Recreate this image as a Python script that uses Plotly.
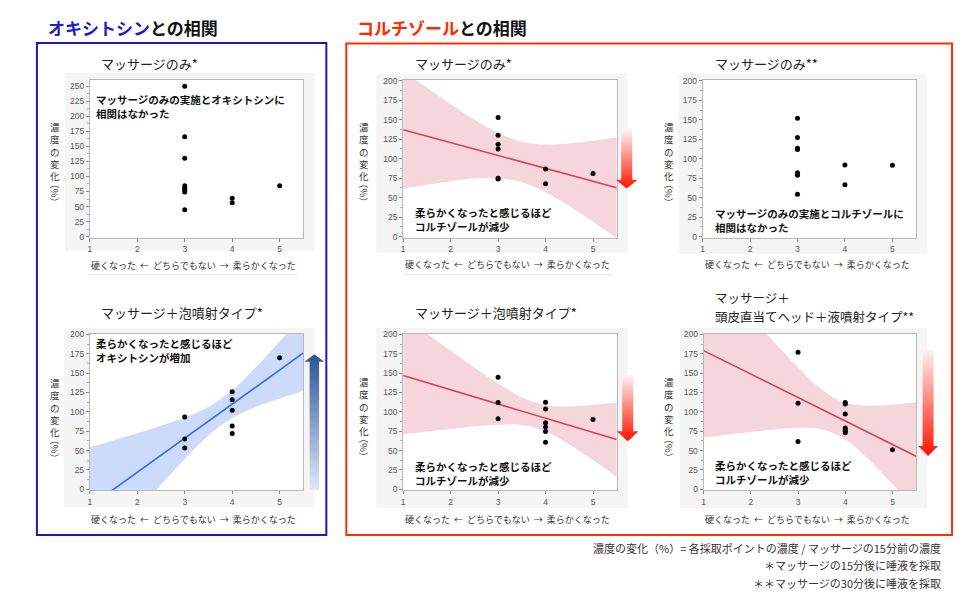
import base64
import plotly.graph_objects as go

W, H = 976, 606
FONT = "Noto Sans CJK JP"
NUMFONT = "Liberation Sans"

# ---------------- data ----------------
tick_vals = [1, 2, 3, 4, 5]
tick_text = ["1", "2", "3", "4", "5"]
x_label = "硬くなった&nbsp;&nbsp;←&nbsp;&nbsp;どちらでもない&nbsp;&nbsp;→&nbsp;&nbsp;柔らかくなった"
y_label_chars = ["濃", "度", "の", "変", "化"]
y_label_unit = "（%）"

# oxytocin, massage only (*)
oxy_massage_x = [3, 3, 3, 3, 3, 3, 3, 3, 4, 4, 5]
oxy_massage_y = [249.5, 166, 130, 84.5, 80.5, 77, 74, 44.7, 63.7, 56.1, 84.4]

# oxytocin, massage + foam jet (*)
oxy_foam_x = [3, 3, 3, 4, 4, 4, 4, 4, 5]
oxy_foam_y = [93.5, 65, 53.2, 125.8, 115.7, 101.9, 81.8, 72.1, 169.8]

# cortisol, massage only (*)
cort_m15_x = [3, 3, 3, 3, 3, 3, 4, 4, 5]
cort_m15_y = [153, 130, 118.7, 112.4, 75, 74, 86.8, 67.9, 80.9]

# cortisol, massage only (**)
cort_m30_x = [3, 3, 3, 3, 3, 3, 3, 4, 4, 5]
cort_m30_y = [151.9, 127.2, 113.4, 111.7, 82, 78.7, 54.4, 92, 66.5, 91.6]

# cortisol, massage + foam jet (*)
cort_foam_x = [3, 3, 3, 4, 4, 4, 4, 4, 4, 5]
cort_foam_y = [144.7, 112, 91, 112.4, 103.6, 86, 80.5, 74.6, 60.8, 90.1]

# cortisol, massage + scalp head + liquid jet (**)
cort_head_x = [3, 3, 3, 4, 4, 4, 4, 4, 4, 4, 5]
cort_head_y = [176.9, 111.1, 61.6, 112, 110, 97.3, 79, 77, 75, 73, 51.2]

# fitted lines, read at the two ends of the x range
fit_x = [1, 5.5]
oxy_foam_fit = [-22, 176]
cort_m15_fit = [137.1, 62.9]
cort_foam_fit = [146.8, 64.2]
cort_head_fit = [179, 42.8]

# confidence bands, read at these x values
band_x = [1, 1.5, 2, 2.5, 3, 3.5, 4, 4.5, 5, 5.5]
oxy_foam_lo = [-98.3, -63.3, -28.5, 5.9, 39.2, 69.6, 92.1, 106.4, 117.2, 126.9]
oxy_foam_hi = [54.3, 63.3, 72.5, 82.1, 92.8, 106.4, 127.9, 157.6, 190.8, 225.1]
cort_m15_lo = [61.6, 66.7, 71.2, 74.5, 75, 69.9, 57.1, 39.4, 19.3, -1.9]
cort_m15_hi = [212.6, 190.9, 170, 150.2, 133.2, 121.9, 118.1, 119.4, 122.9, 127.6]
cort_foam_lo = [70.8, 74.5, 78, 81.3, 83.5, 83.1, 74.9, 58, 37.8, 16.3]
cort_foam_hi = [222.8, 200.7, 178.8, 157.3, 136.7, 118.7, 108.5, 107, 109, 112.1]
cort_head_lo = [66.5, 70.5, 74.1, 77.3, 79.4, 77.6, 64.6, 38.2, 6.5, -26.7]
cort_head_hi = [291.5, 257.3, 223.3, 189.9, 157.6, 129, 111.8, 108, 109.3, 112.3]

section_titles = ["オキシトシン", "コルチゾール"]
section_suffix = "との相関"
panel_titles = [
    ["マッサージのみ*"],
    ["マッサージ＋泡噴射タイプ*"],
    ["マッサージのみ*"],
    ["マッサージのみ**"],
    ["マッサージ＋泡噴射タイプ*"],
    ["マッサージ＋", "頭皮直当てヘッド＋液噴射タイプ**"],
]
notes = [
    ["マッサージのみの実施とオキシトシンに", "相関はなかった"],
    ["柔らかくなったと感じるほど", "オキシトシンが増加"],
    ["柔らかくなったと感じるほど", "コルチゾールが減少"],
    ["マッサージのみの実施とコルチゾールに", "相関はなかった"],
    ["柔らかくなったと感じるほど", "コルチゾールが減少"],
    ["柔らかくなったと感じるほど", "コルチゾールが減少"],
]
footnotes = [
    "濃度の変化（%）= 各採取ポイントの濃度 / マッサージの15分前の濃度",
    "＊マッサージの15分後に唾液を採取",
    "＊＊マッサージの30分後に唾液を採取",
]

# ---------------- layout helpers ----------------
def X(px):
    return px / W


def Y(py):
    return 1 - py / H


BLUE_BAND = "rgba(205,219,250,1)"
BLUE_LINE = "#2f6bef"
RED_BAND = "rgba(245,214,220,1)"
RED_LINE = "#d8404c"

panels = [
    dict(x=oxy_massage_x, y=oxy_massage_y, plot=(88, 302, 77, 237), bg=(63, 313, 70, 250),
         yr=[-2, 260], fit=None, lo=None, hi=None, band=None, line=None,
         title=(97, [60]), tsize=13, note=(92, 103.5), xl=(192, 265), yl=(53, 121.7)),
    dict(x=oxy_foam_x, y=oxy_foam_y, plot=(88, 302, 334, 493), bg=(62, 313, 328, 510),
         yr=[-1.5, 201], fit=oxy_foam_fit, lo=oxy_foam_lo, hi=oxy_foam_hi,
         band=BLUE_BAND, line=BLUE_LINE,
         title=(97, [313]), tsize=13, note=(92, 351), xl=(192, 522), yl=(53, 381)),
    dict(x=cort_m15_x, y=cort_m15_y, plot=(402, 616, 77, 237), bg=(375, 627, 71, 252),
         yr=[-1.5, 201], fit=cort_m15_fit, lo=cort_m15_lo, hi=cort_m15_hi,
         band=RED_BAND, line=RED_LINE,
         title=(412, [60]), tsize=13, note=(412, 218.5), xl=(507, 264), yl=(363, 121.7)),
    dict(x=cort_m30_x, y=cort_m30_y, plot=(702, 916, 77, 237), bg=(678, 927, 71, 253),
         yr=[-1.5, 201], fit=None, lo=None, hi=None, band=None, line=None,
         title=(712, [60]), tsize=13, note=(712, 219.5), xl=(807, 264), yl=(668, 121.7)),
    dict(x=cort_foam_x, y=cort_foam_y, plot=(402, 616, 334, 493), bg=(375, 627, 328, 511),
         yr=[-1.5, 201], fit=cort_foam_fit, lo=cort_foam_lo, hi=cort_foam_hi,
         band=RED_BAND, line=RED_LINE,
         title=(412, [313]), tsize=13, note=(412, 475.5), xl=(507, 522), yl=(363, 380)),
    dict(x=cort_head_x, y=cort_head_y, plot=(703, 916, 334, 493), bg=(679, 927, 328, 511),
         yr=[-1.5, 201], fit=cort_head_fit, lo=cort_head_lo, hi=cort_head_hi,
         band=RED_BAND, line=RED_LINE,
         title=(712, [297, 316.5]), tsize=12.5, note=(712, 475), xl=(807, 522), yl=(668, 380)),
]

fig = go.Figure()
layout = dict(
    width=W, height=H, margin=dict(l=0, r=0, t=0, b=0),
    paper_bgcolor="white", plot_bgcolor="rgba(0,0,0,0)",
    showlegend=False, font=dict(family=FONT, color="#333"),
)
shapes, annotations, images = [], [], []

for i, p in enumerate(panels, start=1):
    xa = "x" if i == 1 else f"x{i}"
    ya = "y" if i == 1 else f"y{i}"
    l, r, t, b = p["plot"]
    bl, br, bt, bb = p["bg"]
    # frame background and white plot area
    shapes.append(dict(type="rect", xref="paper", yref="paper", x0=X(bl), x1=X(br),
                       y0=Y(bb), y1=Y(bt), fillcolor="#f5f5f5", line=dict(width=0), layer="below"))
    shapes.append(dict(type="rect", xref="paper", yref="paper", x0=X(l), x1=X(r),
                       y0=Y(b), y1=Y(t), fillcolor="white", line=dict(width=0), layer="below"))
    common = dict(showgrid=False, zeroline=False, showline=True, linecolor="#b8b8b8",
                  linewidth=1, mirror=True, ticks="outside", ticklen=3, tickcolor="#888",
                  tickfont=dict(family=NUMFONT, size=8.5, color="#555"), fixedrange=True)
    layout["xaxis" if i == 1 else f"xaxis{i}"] = dict(
        domain=[X(l), X(r)], range=[1, 5.5], tickvals=tick_vals, ticktext=tick_text,
        anchor=ya, **common)
    layout["yaxis" if i == 1 else f"yaxis{i}"] = dict(
        domain=[Y(b), Y(t)], range=p["yr"], dtick=25, tick0=0, anchor=xa,
        minor=dict(ticks="outside", ticklen=2, dtick=12.5, tickcolor="#aaa"), **common)

    if p["band"] is not None:
        fig.add_trace(go.Scatter(x=band_x, y=p["lo"], xaxis=xa, yaxis=ya, mode="lines",
                                 line=dict(width=0, shape="spline", smoothing=1),
                                 hoverinfo="skip"))
        fig.add_trace(go.Scatter(x=band_x, y=p["hi"], xaxis=xa, yaxis=ya, mode="lines",
                                 line=dict(width=0, shape="spline", smoothing=1),
                                 fill="tonexty", fillcolor=p["band"], hoverinfo="skip"))
        fig.add_trace(go.Scatter(x=fit_x, y=p["fit"], xaxis=xa, yaxis=ya, mode="lines",
                                 line=dict(width=1.6, color=p["line"])))
    fig.add_trace(go.Scatter(x=p["x"], y=p["y"], xaxis=xa, yaxis=ya, mode="markers",
                             marker=dict(size=5, color="black")))

    # panel title (one annotation per line)
    tx, tys = p["title"]
    for line_text, ty in zip(panel_titles[i - 1], tys):
        annotations.append(dict(xref="paper", yref="paper", x=X(tx), y=Y(ty), text=line_text,
                                showarrow=False, xanchor="left", yanchor="middle",
                                font=dict(size=p["tsize"], color="#222")))
    # note text
    nx, ny = p["note"]
    annotations.append(dict(xref="paper", yref="paper", x=X(nx), y=Y(ny),
                            text="<br>".join(f"<b>{s}</b>" for s in notes[i - 1]),
                            showarrow=False, xanchor="left", yanchor="middle", align="left",
                            font=dict(size=10.5, color="#111")))
    # x label
    xlx, xly = p["xl"]
    annotations.append(dict(xref="paper", yref="paper", x=X(xlx), y=Y(xly), text=x_label,
                            showarrow=False, xanchor="center", yanchor="middle",
                            font=dict(size=9, color="#333")))
    # y label (stacked vertical)
    ylx, yly = p["yl"]
    annotations.append(dict(xref="paper", yref="paper", x=X(ylx), y=Y(yly - 6),
                            text="<br>".join(y_label_chars), showarrow=False,
                            xanchor="center", yanchor="top",
                            font=dict(size=9.5, color="#333")))
    annotations.append(dict(xref="paper", yref="paper", x=X(ylx), y=Y(yly + 70), text=y_label_unit,
                            showarrow=False, xanchor="center", yanchor="middle", textangle=90,
                            font=dict(size=9.5, color="#333")))

# faint rules under top x labels
for (x0, x1) in [(87, 297), (402, 612)]:
    shapes.append(dict(type="line", xref="paper", yref="paper", x0=X(x0), x1=X(x1),
                       y0=Y(274), y1=Y(274), line=dict(color="#e6e6e6", width=1)))

# section boxes
shapes.append(dict(type="rect", xref="paper", yref="paper", x0=X(35), x1=X(325), y0=Y(538),
                   y1=Y(39.5), line=dict(color="#1818c4", width=2), fillcolor="rgba(0,0,0,0)"))
shapes.append(dict(type="rect", xref="paper", yref="paper", x0=X(345), x1=X(952), y0=Y(538),
                   y1=Y(40), line=dict(color="#ff3000", width=2), fillcolor="rgba(0,0,0,0)"))

# section titles
annotations.append(dict(xref="paper", yref="paper", x=X(44), y=Y(24),
                        text=f"<b><span style='color:#1c1cc8'>{section_titles[0]}</span>{section_suffix}</b>",
                        showarrow=False, xanchor="left", yanchor="middle",
                        font=dict(size=17, color="#111")))
annotations.append(dict(xref="paper", yref="paper", x=X(354), y=Y(24),
                        text=f"<b><span style='color:#ff2a00'>{section_titles[1]}</span>{section_suffix}</b>",
                        showarrow=False, xanchor="left", yanchor="middle",
                        font=dict(size=17, color="#111")))

# footnotes
for txt, fy in zip(footnotes, [551, 569, 587]):
    annotations.append(dict(xref="paper", yref="paper", x=X(943), y=Y(fy), text=txt,
                            showarrow=False, xanchor="right", yanchor="middle",
                            font=dict(size=11, color="#333")))


# gradient arrows as inline SVG images
def arrow_image(left, top, w, h, shaft_w, head_h, up, c_top, c_bot):
    cx = w / 2
    s0, s1 = cx - shaft_w / 2, cx + shaft_w / 2
    if up:
        pts = [(cx, 0), (w, head_h), (s1, head_h), (s1, h), (s0, h), (s0, head_h), (0, head_h)]
    else:
        hb = h - head_h
        pts = [(s0, 0), (s1, 0), (s1, hb), (w, hb), (cx, h), (0, hb), (s0, hb)]
    ptxt = " ".join(f"{a:.2f},{c:.2f}" for a, c in pts)
    svg = (f"<svg xmlns='http://www.w3.org/2000/svg' width='{w}' height='{h}' viewBox='0 0 {w} {h}'>"
           f"<defs><linearGradient id='g' x1='0' y1='0' x2='0' y2='1'>"
           f"<stop offset='0' stop-color='{c_top}'/><stop offset='1' stop-color='{c_bot}'/>"
           f"</linearGradient></defs><polygon points='{ptxt}' fill='url(#g)'/></svg>")
    src = "data:image/svg+xml;base64," + base64.b64encode(svg.encode()).decode()
    return dict(source=src, xref="paper", yref="paper", x=X(left), y=Y(top),
                sizex=w / W, sizey=h / H, xanchor="left", yanchor="top",
                sizing="stretch", layer="above")


images.append(arrow_image(303, 355, 20, 138, 9.5, 7.5, True, "#2c5395", "#e1e9f7"))
images.append(arrow_image(615, 128, 22, 59, 11, 9, False, "#fff2f2", "#ff1400"))
images.append(arrow_image(616, 376, 22, 67, 11, 10, False, "#fff2f2", "#ff1400"))
images.append(arrow_image(918, 350, 20, 108, 11, 10, False, "#fff2f2", "#ff1400"))

layout["shapes"] = shapes
layout["annotations"] = annotations
layout["images"] = images
fig.update_layout(**layout)
fig.write_html(
    "out.html",
    config={"displayModeBar": False},
    post_script="document.body.style.margin='0';document.body.style.padding='0';"
                "document.body.style.overflow='hidden';",
)
